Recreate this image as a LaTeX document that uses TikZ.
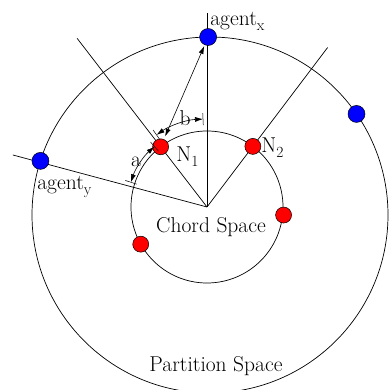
\documentclass[tikz,border=0pt]{standalone}
\usetikzlibrary{arrows.meta,calc}

\newcommand{\subtx}[1]{\raisebox{-0.22em}{\fontsize{15.5}{15.5}\selectfont #1}}

\begin{document}
\begin{tikzpicture}[
  x=1pt, y=1pt,
  font=\rmfamily\fontsize{21.5}{24}\selectfont,
  line width=0.7pt,
  redpt/.style={circle, draw=black, line width=0.5pt, fill=red, minimum size=16pt, inner sep=0pt},
  bluept/.style={circle, draw=black, line width=0.5pt, fill=blue, minimum size=17pt, inner sep=0pt},
  lbl/.style={inner sep=0pt},
  ar/.style={{Latex[length=8pt,width=5pt]}-{Latex[length=8pt,width=5pt]}, line width=0.6pt},
  tick/.style={line width=0.5pt}]
  \useasboundingbox (0,0) rectangle (388,390);
  \coordinate (O) at (207,183);
  \coordinate (C) at (210,175);
  % partition and chord space
  \draw (C) circle (178);
  \draw (O) circle (76);
  % radial lines
  \coordinate (tx) at ($(O)+(90:194)$);
  \coordinate (tl) at ($(O)+(127.6:213)$);
  \coordinate (tr) at ($(O)+(52.9:200)$);
  \coordinate (ty) at ($(O)+(165:201)$);
  \draw (O) -- (tx);
  \draw (O) -- (tl);
  \draw (O) -- (tr);
  \draw (O) -- (ty);
  % chord nodes
  \node[redpt] (n1) at ($(O)+(127.6:76)$) {};
  \node[redpt] (n2) at ($(O)+(52.9:76)$) {};
  \node[redpt] (n3) at ($(O)+(-6:77)$) {};
  \node[redpt] (n4) at ($(O)+(209.3:76)$) {};
  % agents
  \node[bluept] (ax) at ($(C)+(90.6:178)$) {};
  \node[bluept] (ay) at ($(C)+(162.3:178)$) {};
  \node[bluept] (az) at ($(C)+(34.6:178)$) {};
  % labels
  \node[lbl, anchor=base west] (lax) at (210,364) {agent\subtx{x}};
  \node[lbl, anchor=base west] (lay) at (37,200) {agent\subtx{y}};
  \node[lbl, anchor=base west] (ln1) at (176,228) {N\subtx{1}};
  \node[lbl, anchor=base west] (ln2) at (261,237) {N\subtx{2}};
  \node[lbl, anchor=base] (chord) at (211,157) {Chord Space};
  \node[lbl, anchor=base] (part) at (216,18) {Partition Space};
  \node[lbl] (la) at (136,228) {a};
  \node[lbl] (lb) at (185,272) {b};
  % distances
  \draw[ar] ($(O)+(162:80)$) arc[start angle=162, end angle=131, radius=80];
  \draw[ar] ($(O)+(125:88)$) arc[start angle=125, end angle=92.6, radius=88];
  \foreach \t/\r in {162/80, 131/80, 125/88, 92.6/88}
    \draw[tick] ($(O)+(\t:{\r-6})$) -- ($(O)+(\t:{\r+6})$);
  \draw[ar, shorten <=3pt, shorten >=1pt] (n1) -- (ax);
\end{tikzpicture}
\end{document}
